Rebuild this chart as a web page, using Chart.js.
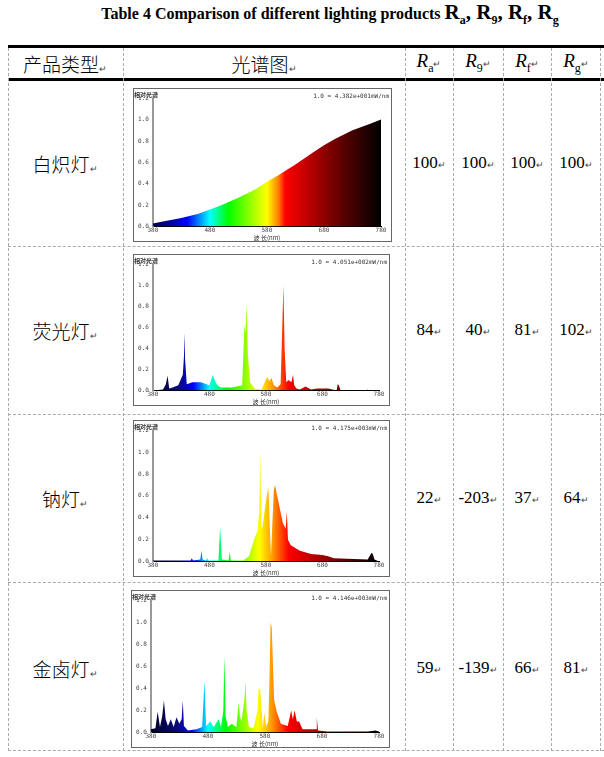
<!DOCTYPE html>
<html><head><meta charset="utf-8">
<script src="https://cdn.jsdelivr.net/npm/chart.js@4"></script>
<style>
body{margin:0;width:604px;height:757px;background:#fff;position:relative;overflow:hidden;font-family:"Liberation Serif",serif;color:#000}
.a{position:absolute}
.t{position:absolute;transform:translate(-50%,-50%);white-space:nowrap;font-size:19px;font-family:"Liberation Serif",serif}
.cjk{font-family:"Noto Sans CJK SC",sans-serif;font-weight:300}
.m{font-size:9px;color:#444}
.hl{position:absolute;left:8px;width:596px;background:#000;height:3px}
.dl{position:absolute;left:8px;width:596px;border-top:1px dashed #aaa}
.vl{position:absolute;border-left:1px dashed #aaa;top:48px;height:703px}
.box{position:absolute;border:1px solid #666;background:#fff}
</style></head><body>
<div class="t" style="left:330px;top:14px;font-weight:bold;font-size:16px">Table 4 Comparison of different lighting products <span style="font-size:21px">R<sub style="font-size:12px">a</sub>, R<sub style="font-size:12px">9</sub>, R<sub style="font-size:12px">f</sub>, R<sub style="font-size:12px">g</sub></span></div>
<div class="hl" style="top:45px"></div>
<div class="hl" style="top:78px"></div>
<div class="dl" style="top:246px"></div>
<div class="dl" style="top:414px"></div>
<div class="dl" style="top:582px"></div>
<div class="dl" style="top:750px"></div>
<div class="vl" style="left:8px"></div>
<div class="vl" style="left:123px"></div>
<div class="vl" style="left:405px"></div>
<div class="vl" style="left:453px"></div>
<div class="vl" style="left:503px"></div>
<div class="vl" style="left:551px"></div>
<div class="vl" style="left:600px"></div>
<div id="head"></div>
<div id="body"></div>
<script>
const categories=["白炽灯","荧光灯","钠灯","金卤灯"];
const headers=["产品类型","光谱图","Ra","R9","Rf","Rg"];
const Ra=[100,84,22,59];
const R9=[100,40,-203,-139];
const Rf=[100,81,37,66];
const Rg=[100,102,64,81];
const scaleNotes=["1.0 = 4.382e+001mW/nm","1.0 = 4.051e+002mW/nm","1.0 = 4.175e+003mW/nm","1.0 = 4.146e+003mW/nm"];
const xTicks=[380,480,580,680,780];
const yTicks=[0,0.2,0.4,0.6,0.8,1.0,1.2];
const incWl=[380,400,430,460,480,500,530,560,580,600,630,660,680,700,730,760,780];
const incV=[0.03,0.05,0.08,0.12,0.16,0.2,0.27,0.35,0.42,0.48,0.58,0.69,0.76,0.82,0.9,0.96,1.0];
const fluWl=[380,398,403,406,409,415,425,433,435,436,437,440,450,465,480,486,490,494,500,520,538,542,544,546,548,552,560,572,578,582,586,590,594,600,606,609,611,613,616,620,625,628,630,634,640,650,660,670,690,705,707,709,712,740,758,760,762,780];
const fluV=[0,0.01,0.06,0.14,0.02,0.03,0.05,0.15,0.32,0.55,0.3,0.06,0.08,0.08,0.05,0.15,0.09,0.05,0.03,0.03,0.05,0.62,0.55,0.82,0.35,0.08,0.02,0.01,0.08,0.13,0.09,0.12,0.05,0.03,0.06,0.63,1.0,0.4,0.08,0.1,0.08,0.15,0.05,0.02,0.01,0.04,0.01,0.02,0.02,0.0,0.06,0.05,0.0,0.0,0.0,0.01,0.0,0.0];
const naWl=[380,430,447,449,451,464,466,468,474,476,478,496,499,502,514,516,518,540,550,559,565,568,570,572,574,580,584,585,587,589,591,594,596,600,610,615,617,619,624,640,660,680,690,700,760,767,769,772,780];
const naV=[0.01,0.01,0.01,0.03,0.01,0.02,0.1,0.02,0.01,0.03,0.01,0.01,0.32,0.02,0.01,0.09,0.01,0.01,0.05,0.2,0.28,0.45,1.0,0.3,0.32,0.55,0.68,0.6,0.3,0.05,0.3,0.65,0.7,0.6,0.35,0.3,0.46,0.2,0.15,0.1,0.07,0.06,0.05,0.03,0.02,0.08,0.07,0.02,0.0];
const mhWl=[380,388,392,396,400,403,406,410,415,420,425,430,434,436,438,445,460,470,474,477,484,490,499,503,507,509,511,515,522,530,534,536,539,544,546,548,552,560,567,569,572,576,579,582,586,588,590,592,596,600,608,620,626,629,632,636,640,646,660,670,671,673,690,720,760,774,780];
const mhV=[0.03,0.04,0.19,0.05,0.15,0.29,0.12,0.06,0.12,0.05,0.14,0.08,0.12,0.29,0.06,0.02,0.03,0.05,0.47,0.06,0.1,0.05,0.12,0.05,0.2,0.7,0.15,0.05,0.08,0.05,0.27,0.15,0.1,0.3,0.47,0.2,0.05,0.04,0.2,0.41,0.38,0.04,0.18,0.05,0.1,0.5,1.0,0.95,0.3,0.2,0.08,0.06,0.2,0.12,0.2,0.1,0.1,0.03,0.03,0.03,0.14,0.02,0.01,0.01,0.01,0.02,0.01];
const spectra=[[incWl,incV],[fluWl,fluV],[naWl,naV],[mhWl,mhV]];

const head=document.getElementById('head');
const hx=[65,264,429,478,527,576];
headers.forEach((h,i)=>{
  const d=document.createElement('div');d.className='t';d.style.left=hx[i]+'px';d.style.top='63px';
  if(i<2){d.classList.add('cjk');d.innerHTML=h+'<span class="m">↵</span>';}
  else d.innerHTML='<i>'+h[0]+'</i><sub style="font-size:12px">'+h.slice(1)+'</sub><span class="m">↵</span>';
  head.appendChild(d);
});
const body=document.getElementById('body');
const rowY=[163,330,498,668];
const boxes=[[133,88,257,152],[133,254,255,150],[133,420,255,155],[131,590,257,156]];
const specColors=[[0,'#000020'],[0.12,'#0a0a80'],[0.18,'#0000ff'],[0.25,'#00ffff'],[0.33,'#00ff00'],[0.47,'#ffff00'],[0.53,'#ff9900'],[0.6,'#ff0000'],[0.75,'#a00000'],[0.9,'#400000'],[1,'#000000']];
const incColors=[[0,'#000040'],[0.15,'#0000ff'],[0.25,'#00ffff'],[0.33,'#00ff00'],[0.5,'#ffff00'],[0.55,'#ff8000'],[0.58,'#ff0000'],[0.7,'#b00000'],[0.85,'#500000'],[1,'#000000']];
categories.forEach((c,i)=>{
  const vals=[Ra[i],R9[i],Rf[i],Rg[i]];
  const n=document.createElement('div');n.className='t cjk';n.style.left='65px';n.style.top=rowY[i]+'px';n.innerHTML=c+'<span class="m">↵</span>';body.appendChild(n);
  vals.forEach((v,j)=>{const d=document.createElement('div');d.className='t';d.style.left=hx[j+2]+'px';d.style.top=rowY[i]+'px';d.style.fontSize='17px';d.innerHTML=v+'<span class="m">↵</span>';body.appendChild(d);});
  const b=boxes[i];
  const bx=document.createElement('div');bx.className='box';bx.style.left=b[0]+'px';bx.style.top=b[1]+'px';bx.style.width=b[2]+'px';bx.style.height=b[3]+'px';
  const cv=document.createElement('canvas');bx.appendChild(cv);body.appendChild(bx);
  const stops=i==0?incColors:specColors;
  const note=scaleNotes[i];
  new Chart(cv,{type:'line',
    data:{datasets:[{data:spectra[i][0].map((x,k)=>({x:x,y:spectra[i][1][k]})),borderWidth:0,pointRadius:0,tension:0,fill:'origin',
      backgroundColor:(ctx)=>{const ch=ctx.chart;const ca=ch.chartArea;if(!ca)return '#888';const g=ch.ctx.createLinearGradient(ca.left,0,ca.right,0);stops.forEach(s=>g.addColorStop(s[0],s[1]));return g;}}]},
    options:{responsive:true,maintainAspectRatio:false,animation:false,events:[],
      layout:{padding:{left:0,right:10,top:0,bottom:0}},
      plugins:{legend:{display:false},tooltip:{enabled:false},
        title:{display:true,text:'相对光谱',align:'start',font:{size:6,family:'Noto Sans CJK SC'},color:'#333',padding:{top:2,bottom:0}}},
      scales:{
        x:{type:'linear',min:380,max:780,afterBuildTicks:(a)=>{a.ticks=xTicks.map(v=>({value:v}));},
          ticks:{font:{size:6,family:'DejaVu Sans Mono'},color:'#444',padding:0,maxRotation:0},
          grid:{display:false,drawTicks:false},border:{color:'#000',width:1},
          title:{display:true,text:'波 长(nm)',font:{size:6,family:'Noto Sans CJK SC'},color:'#333',padding:0}},
        y:{min:0,max:1.2,afterBuildTicks:(a)=>{a.ticks=yTicks.map(v=>({value:v}));},
          ticks:{font:{size:6,family:'DejaVu Sans Mono'},color:'#444',padding:4,callback:v=>v.toFixed(1)},
          grid:{display:false,drawTicks:false},border:{color:'#999',width:2}}}},
    plugins:[{id:'note',afterDraw(ch){const c=ch.ctx;c.save();c.font='6px DejaVu Sans Mono';c.fillStyle='#333';c.textAlign='right';c.textBaseline='top';c.fillText(note,ch.width-2,4);c.restore();}}]
  });
});
</script>
</body></html>
